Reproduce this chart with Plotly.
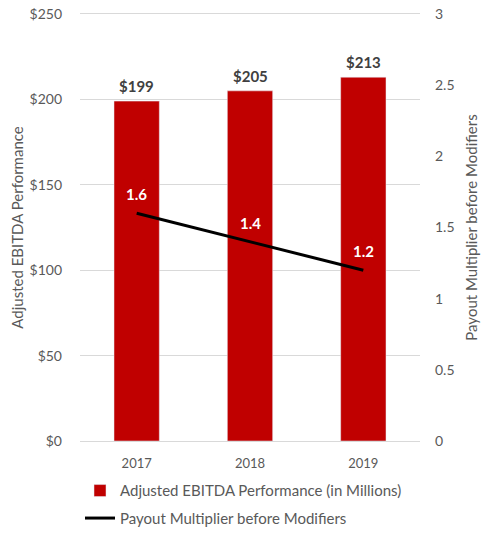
import plotly.graph_objects as go

years = ["2017", "2018", "2019"]
ebitda = [199, 205, 213]
multiplier = [1.6, 1.4, 1.2]
ebitda_labels = ["$199", "$205", "$213"]
mult_labels = ["1.6", "1.4", "1.2"]
left_ticks = [0, 50, 100, 150, 200, 250]
left_ticktext = ["$0", "$50", "$100", "$150", "$200", "$250"]
right_ticks = [0, 0.5, 1, 1.5, 2, 2.5, 3]
right_ticktext = ["0", "0.5", "1", "1.5", "2", "2.5", "3"]

FONT = "Lato, Open Sans, sans-serif"
GRAY = "#595959"

fig = go.Figure()
fig.add_trace(go.Bar(
    x=years, y=ebitda, name="Adjusted EBITDA Performance (in Millions)",
    marker_color="#C00000", width=0.4, legendgroup="a",
))
fig.add_trace(go.Scatter(
    x=years, y=multiplier, name="Payout Multiplier before Modifiers",
    mode="lines", yaxis="y2", legendgroup="b",
    line=dict(color="black", width=3),
))

annotations = []
for i, (v, t) in enumerate(zip(ebitda, ebitda_labels)):
    annotations.append(dict(x=i, y=v, xref="x", yref="y", text="<b>%s</b>" % t,
                            showarrow=False, yanchor="middle", yshift=15,
                            font=dict(family=FONT, size=15, color="#404040")))
for i, (v, t) in enumerate(zip(multiplier, mult_labels)):
    annotations.append(dict(x=i, y=v, xref="x", yref="y2", text="<b>%s</b>" % t,
                            showarrow=False, yanchor="middle", yshift=19,
                            font=dict(family=FONT, size=15, color="white")))

fig.update_layout(
    width=486, height=533,
    margin=dict(l=80, r=66, t=14, b=92, autoexpand=False),
    paper_bgcolor="white", plot_bgcolor="white",
    font=dict(family=FONT, size=13, color=GRAY),
    showlegend=True,
    annotations=annotations,
    legend=dict(orientation="v", x=0.0, y=-0.078, xanchor="left", yanchor="top",
                font=dict(family=FONT, size=15, color=GRAY),
                tracegroupgap=5, itemwidth=30),
    xaxis=dict(type="category", range=[-0.5, 2.5],
               showgrid=False, showline=True, mirror=True, linecolor="#d9d9d9", linewidth=1,
               ticks="", tickfont=dict(size=13, color=GRAY), automargin=False,
               ticklabelstandoff=10),
    yaxis=dict(range=[0, 250], tickvals=left_ticks, ticktext=left_ticktext,
               showgrid=True, gridcolor="#d9d9d9", gridwidth=1, zeroline=False,
               tickfont=dict(size=14, color=GRAY), ticks="", automargin=False,
               ticklabelstandoff=17,
               title=dict(text="Adjusted EBITDA Performance", font=dict(size=15, color=GRAY), standoff=2)),
    yaxis2=dict(range=[0, 3], tickvals=right_ticks, ticktext=right_ticktext,
                overlaying="y", side="right", showgrid=False, zeroline=False,
                tickfont=dict(size=14, color=GRAY), automargin=False,
                ticklabelstandoff=14,
                title=dict(text="Payout Multiplier before Modifiers", font=dict(size=15, color=GRAY), standoff=12)),
)

fig.write_html("out.html")
